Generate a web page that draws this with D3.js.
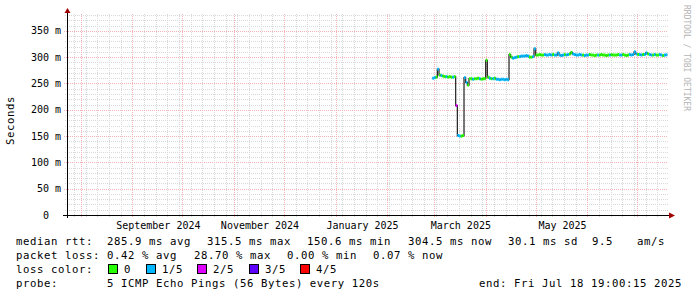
<!DOCTYPE html>
<html>
<head>
<meta charset="utf-8">
<script src="https://cdn.jsdelivr.net/npm/d3@7"></script>
<style>
  body { margin: 0; background: #fff; }
  text { font-family: 'DejaVu Sans Mono', monospace; fill: #000; white-space: pre; }
  .legend text { font-size: 10.67px; letter-spacing: 0.58px; }
  .tick-label { font-size: 10px; }
</style>
</head>
<body>
<svg width="697" height="297"></svg>
<script>
// ---- data ----
// one median value per day, first one is Feb 28 2025
const firstDay = new Date(2025, 1, 28)
const graphEnd = new Date(2025, 6, 18, 19, 0, 15)
const graphStart = d3.timeDay.offset(graphEnd, -360)

const medianMs = [
  260, 261, 262, 277, 266, 265, 264, 263, 263, 262,
  263, 262, 262, 263, 208, 151, 150, 150, 151, 261,
  252, 247, 259, 259, 258, 259, 259, 260, 259, 258,
  259, 259, 294, 262, 260, 259, 259, 260, 258, 258,
  257, 258, 258, 257, 258, 257, 305, 300, 298, 299,
  300, 301, 301, 302, 302, 302, 303, 302, 300, 300,
  301, 316, 304, 304, 305, 304, 304, 305, 304, 304,
  305, 304, 305, 304, 304, 308, 304, 303, 304, 305,
  304, 305, 306, 309, 306, 305, 304, 304, 305, 304,
  304, 303, 304, 304, 305, 304, 304, 303, 304, 304,
  304, 305, 304, 304, 303, 304, 304, 305, 304, 304,
  304, 305, 304, 304, 305, 304, 303, 304, 305, 304,
  305, 310, 306, 305, 305, 304, 305, 305, 308, 306,
  305, 304, 304, 305, 304, 304, 305, 304, 303, 304, 304.5
]

// lost pings out of 5 for each day
const lostPings = [
  1, 1, 0, 1, 0, 1, 0, 0, 1, 0,
  0, 0, 1, 0, 2, 1, 1, 0, 0, 1,
  1, 0, 0, 0, 1, 0, 0, 0, 1, 0,
  0, 0, 0, 0, 1, 0, 1, 0, 1, 1,
  1, 1, 1, 1, 1, 1, 0, 0, 1, 1,
  1, 0, 1, 1, 1, 1, 1, 1, 0, 0,
  1, 1, 0, 0, 0, 0, 0, 1, 1, 1,
  1, 1, 0, 1, 1, 1, 1, 1, 1, 0,
  1, 1, 0, 0, 1, 1, 1, 1, 1, 1,
  0, 1, 1, 1, 0, 0, 0, 0, 0, 1,
  0, 0, 0, 0, 0, 0, 1, 0, 0, 0,
  0, 0, 1, 1, 0, 0, 0, 0, 1, 1,
  1, 1, 1, 0, 1, 1, 0, 1, 1, 0,
  1, 1, 0, 1, 0, 0, 1, 1, 0, 1, 1
]

const lossLabels = ['0', '1/5', '2/5', '3/5', '4/5']
const lossColors = ['#26ff00', '#00b8ff', '#dd00ff', '#5e00ff', '#ff0000']

const yTicks = [0, 50, 100, 150, 200, 250, 300, 350]
const yTickLabels = ['0  ', '50 m', '100 m', '150 m', '200 m', '250 m', '300 m', '350 m']

const rttStats = ['median rtt:', '285.9 ms avg', '315.5 ms max', '150.6 ms min', '304.5 ms now', '30.1 ms sd', '9.5', 'am/s']
const lossStats = ['packet loss:', '0.42 % avg', '28.70 % max', '0.00 % min', '0.07 % now']
const probeText = ['probe:', '5 ICMP Echo Pings (56 Bytes) every 120s', 'end: Fri Jul 18 19:00:15 2025']

// ---- layout ----
const svg = d3.select('svg')
const plot = {left: 67, right: 667, top: 14, bottom: 215}

const xScale = d3.scaleTime()
    .domain([graphStart, graphEnd])
    .range([plot.left, plot.right])

const yScale = d3.scaleLinear()
    .domain([0, 382])
    .range([plot.bottom, plot.top])

svg.append('rect').attr('width', 697).attr('height', 297).attr('fill', '#fff')

const grid = svg.append('g').attr('shape-rendering', 'crispEdges')
const minorColor = '#d9d9d9'
const majorColor = '#f2b4b4'

// minor grid: every 10 ms and every week
grid.selectAll('.ymin').data(d3.range(10, 382, 10).filter(v => v % 50 !== 0))
    .enter().append('line')
        .attr('x1', plot.left - 2).attr('x2', plot.right + 1)
        .attr('y1', d => Math.round(yScale(d)) + 0.5)
        .attr('y2', d => Math.round(yScale(d)) + 0.5)
        .attr('stroke', minorColor).attr('stroke-dasharray', '1,1')

const weeks = d3.timeSunday.range(graphStart, graphEnd)
grid.selectAll('.xmin').data(weeks)
    .enter().append('line')
        .attr('x1', d => Math.round(xScale(d)) + 0.5)
        .attr('x2', d => Math.round(xScale(d)) + 0.5)
        .attr('y1', plot.top).attr('y2', plot.bottom + 2)
        .attr('stroke', minorColor).attr('stroke-dasharray', '1,1')

// major grid: every 50 ms and every month
grid.selectAll('.ymaj').data(yTicks.filter(v => v > 0))
    .enter().append('line')
        .attr('x1', plot.left - 3).attr('x2', plot.right + 1)
        .attr('y1', d => Math.round(yScale(d)) + 0.5)
        .attr('y2', d => Math.round(yScale(d)) + 0.5)
        .attr('stroke', majorColor).attr('stroke-dasharray', '1,1')

const months = d3.timeMonth.range(graphStart, graphEnd)
grid.selectAll('.xmaj').data(months)
    .enter().append('line')
        .attr('x1', d => Math.round(xScale(d)) + 0.5)
        .attr('x2', d => Math.round(xScale(d)) + 0.5)
        .attr('y1', plot.top).attr('y2', plot.bottom + 3)
        .attr('stroke', majorColor).attr('stroke-dasharray', '1,1')

// y tick labels
svg.selectAll('.ylab').data(yTicks)
    .enter().append('text')
        .attr('class', 'tick-label')
        .attr('x', plot.left - 6)
        .attr('y', d => yScale(d))
        .attr('dy', '0.35em')
        .attr('text-anchor', 'end')
        .text((d, i) => yTickLabels[i])

// x labels, every second month, centred in the month
// rrdtool drops a label that would run past the right edge
const monthLabel = d3.timeFormat('%B %Y')
const labelX = d => (xScale(d) + xScale(d3.timeMonth.offset(d, 1))) / 2 + 1
const labelMonths = d3.timeMonth.every(2).range(graphStart, graphEnd)
    .filter(d => labelX(d) + monthLabel(d).length * 3 <= plot.right)

svg.selectAll('.xlab').data(labelMonths)
    .enter().append('text')
        .attr('class', 'tick-label')
        .attr('x', labelX)
        .attr('y', plot.bottom + 14)
        .attr('text-anchor', 'middle')
        .text(monthLabel)

// ---- the median line ----
const days = medianMs.map((v, i) => ({
    date: d3.timeDay.offset(firstDay, i),
    next: d3.timeDay.offset(firstDay, i + 1),
    ms: v,
    loss: lostPings[i]
}))

const stepLine = d3.line()
    .x(d => xScale(d.date))
    .y(d => yScale(d.ms))
    .curve(d3.curveStepAfter)

svg.append('path')
    .datum(days.concat([{date: days[days.length - 1].next, ms: medianMs[medianMs.length - 1]}]))
    .attr('d', stepLine)
    .attr('fill', 'none')
    .attr('stroke', '#202020')
    .attr('stroke-width', 1.2)

svg.selectAll('.seg').data(days)
    .enter().append('rect')
        .attr('x', d => xScale(d.date))
        .attr('width', d => xScale(d.next) - xScale(d.date))
        .attr('y', d => yScale(d.ms) - 1.5)
        .attr('height', 3)
        .attr('fill', d => lossColors[d.loss])

// ---- axes with arrows ----
const axes = svg.append('g').attr('shape-rendering', 'crispEdges')
axes.append('line')
    .attr('x1', plot.left + 0.5).attr('x2', plot.left + 0.5)
    .attr('y1', plot.bottom + 3).attr('y2', plot.top - 3)
    .attr('stroke', '#000')
axes.append('line')
    .attr('x1', plot.left - 4).attr('x2', plot.right + 2)
    .attr('y1', plot.bottom + 0.5).attr('y2', plot.bottom + 0.5)
    .attr('stroke', '#000').attr('stroke-width', 1.5)

svg.append('path')
    .attr('d', `M${plot.left + 0.5},${plot.top - 6} l3,5 l-6,0 z`)
    .attr('fill', '#a00000')
svg.append('path')
    .attr('d', `M${plot.right + 8},${plot.bottom + 0.5} l-6,-3 l0,6 z`)
    .attr('fill', '#a00000')

// axis title and watermark
svg.append('text')
    .attr('transform', `translate(14,${(plot.top + plot.bottom) / 2 + 6}) rotate(-90)`)
    .attr('text-anchor', 'middle')
    .style('font-size', '10.67px')
    .style('letter-spacing', '0.58px')
    .text('Seconds')

svg.append('text')
    .attr('transform', 'translate(684,5) rotate(90)')
    .style('font-size', '8px')
    .style('fill', '#b4b4b4')
    .text('RRDTOOL / TOBI OETIKER')

// ---- legend block under the graph ----
const legend = svg.append('g').attr('class', 'legend')

const row = (y, items, xs) => items.forEach((t, i) =>
    legend.append('text').attr('x', xs[i]).attr('y', y).text(t))

row(245, rttStats, [16, 107, 207, 307, 408, 508, 592, 637])
row(259, lossStats, [16, 107, 194, 287, 373])

legend.append('text').attr('x', 16).attr('y', 273).text('loss color:')
const boxX = [108, 146, 197, 249, 300]
lossLabels.forEach((lab, i) => {
    legend.append('rect')
        .attr('x', boxX[i] + 0.5).attr('y', 264.5)
        .attr('width', 9).attr('height', 9)
        .attr('fill', lossColors[i])
        .attr('stroke', '#000')
    legend.append('text').attr('x', boxX[i] + 16).attr('y', 273).text(lab)
})

row(287, probeText, [16, 107, 479])
</script>
</body>
</html>
